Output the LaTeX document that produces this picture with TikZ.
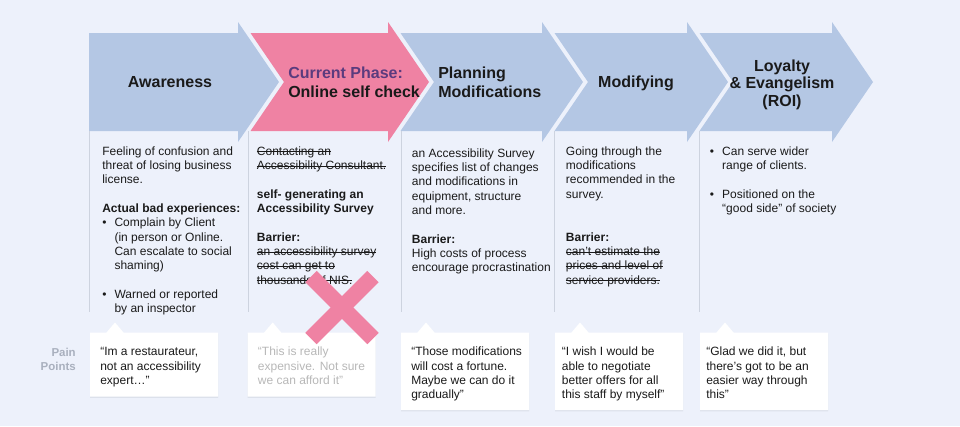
\documentclass[tikz,border=0pt]{standalone}
\usepackage{fontspec}
\setmainfont{Liberation Sans}
\definecolor{bg}{HTML}{EDF1FB}
\definecolor{arrowblue}{HTML}{B4C7E4}
\definecolor{phasepink}{HTML}{EF82A3}
\definecolor{phasepurple}{HTML}{5B3B7E}
\definecolor{colline}{HTML}{CDD3DF}
\definecolor{txtc}{HTML}{1A1A1A}
\definecolor{quotegray}{HTML}{B8B8B8}
\definecolor{labelgray}{HTML}{A9B0BE}
\definecolor{shadowc}{HTML}{DCE1EB}
\newcommand\stk[1]{\setbox0=\hbox{#1}\rlap{\copy0}\rule[2.5pt]{\wd0}{0.6pt}}
\newcommand\bulitem{\makebox[9.2pt][l]{\textbullet}}
\newcommand\bulpad{\hspace*{9.2pt}}
\tikzset{
  bodytext/.style={font=\fontsize{9}{10.75}\selectfont, text=txtc, inner sep=0pt, anchor=north west, align=left},
  headtext/.style={font=\fontsize{12}{14.25}\selectfont\bfseries, text=txtc, inner sep=0pt},
  quotebox/.style={fill=white},
  boxshadow/.style={fill=shadowc},
  colsep/.style={draw=colline, line width=0.75pt},
  bluechev/.style={fill=arrowblue},
  pinkchev/.style={fill=phasepink},
  crossmark/.style={draw=phasepink, line width=12pt}
}
\begin{document}
\begin{tikzpicture}[x=0.75pt,y=-0.75pt]
\fill[bg] (0,0) rectangle (960,426);
\useasboundingbox (0,0) rectangle (960,426);
% chevrons
\fill[bluechev] (89,33) -- (238,33) -- (238,22) -- (279,82) -- (238,142) -- (238,131) -- (89,131) -- cycle;
\fill[pinkchev] (250.5,33) -- (388,33) -- (388,22) -- (429,82) -- (388,142) -- (388,131) -- (250.5,131) -- (284,82) -- cycle;
\fill[bluechev] (400.5,33) -- (542,33) -- (542,22) -- (583,82) -- (542,142) -- (542,131) -- (400.5,131) -- (434,82) -- cycle;
\fill[bluechev] (554.5,33) -- (687,33) -- (687,22) -- (728,82) -- (687,142) -- (687,131) -- (554.5,131) -- (588,82) -- cycle;
\fill[bluechev] (699.5,33) -- (832,33) -- (832,22) -- (873,82) -- (832,142) -- (832,131) -- (699.5,131) -- (733,82) -- cycle;
% column separators
\foreach \cx in {89,248,401,554.5,699.5} \draw[colsep] (\cx,131) -- (\cx,312);
% headers
\node[headtext, anchor=base] (aw) at (170,87.5) {Awareness};
\node[headtext, anchor=north west, align=left] (cur) at (288,65.2) {\strut\textcolor{phasepurple}{Current Phase:}\\Online self check};
\node[headtext, anchor=north west, align=left] (plan) at (438,65.2) {\strut Planning\\Modifications};
\node[headtext, anchor=base] (mod) at (636,87.5) {Modifying};
\node[headtext, font=\fontsize{12}{13.2}\selectfont\bfseries, anchor=north, align=center] (loy) at (782,58.7) {\strut Loyalty\\\& Evangelism\\(ROI)};
% column texts
\node[bodytext] (awtxt) at (102,145) {\strut Feeling of confusion and\\
threat of losing business\\
license.\\[10.75pt]
\textbf{Actual bad experiences:}\\
\bulitem Complain by Client\\
\bulpad (in person or Online.\\
\bulpad Can escalate to social\\
\bulpad shaming)\\[10.75pt]
\bulitem Warned or reported\\
\bulpad by an inspector};
\node[bodytext] (curtxt) at (256.7,145) {\strut\stk{Contacting an}\\
\stk{Accessibility Consultant.}\\[10.75pt]
\textbf{self- generating an}\\
\textbf{Accessibility Survey}\\[10.75pt]
\textbf{Barrier:}\\
\stk{an accessibility survey}\\
\stk{cost can get to}\\
\stk{thousands of NIS.}};
\node[bodytext] (plantxt) at (411.7,146.7) {\strut an Accessibility Survey\\
specifies list of changes\\
and modifications in\\
equipment, structure\\
and more.\\[10.75pt]
\textbf{Barrier:}\\
High costs of process\\
encourage procrastination};
\node[bodytext] (modtxt) at (565.7,145) {\strut Going through the\\
modifications\\
recommended in the\\
survey.\\[21.5pt]
\textbf{Barrier:}\\
\stk{can’t estimate the}\\
\stk{prices and level of}\\
\stk{service providers.}};
\node[bodytext] (loytxt) at (709.7,145) {\strut\bulitem Can serve wider\\
\bulpad range of clients.\\[10.75pt]
\bulitem Positioned on the\\
\bulpad “good side” of society};
% pain points label
\node[bodytext, anchor=north east, align=right, font=\fontsize{8.6}{10.75}\selectfont\bfseries, text=labelgray] (pain) at (76,345.7) {\strut Pain\\Points};
% quote boxes
\foreach \xa/\xb/\yb in {90/218/396.5, 247.7/375.7/396.5, 401/529/410, 555/683/410, 700/828/410} {
  \fill[boxshadow] (\xa,333.7) -- ({\xa+16.5},333.7) -- ({\xa+25},323.7) -- ({\xa+33.5},333.7) -- (\xb,333.7) -- (\xb,\yb+1.3) -- (\xa,\yb+1.3) -- cycle;
  \fill[quotebox] (\xa,332.5) -- ({\xa+16.5},332.5) -- ({\xa+25},322.5) -- ({\xa+33.5},332.5) -- (\xb,332.5) -- (\xb,\yb) -- (\xa,\yb) -- cycle;
}
\node[bodytext] (q1) at (100,345.5) {\strut “Im a restaurateur,\\not an accessibility\\expert…”};
\node[bodytext, text=quotegray] (q2) at (257.7,345.5) {\strut “This is really\\expensive. Not sure\\we can afford it”};
\node[bodytext] (q3) at (411,345.5) {\strut “Those modifications\\will cost a fortune.\\Maybe we can do it\\gradually”};
\node[bodytext] (q4) at (561.7,345.5) {\strut “I wish I would be\\able to negotiate\\better offers for all\\this staff by myself”};
\node[bodytext] (q5) at (706,345.5) {\strut “Glad we did it, but\\there’s got to be an\\easier way through\\this”};
% cross mark
\draw[crossmark] (311,276.5) -- (373,338.5);
\draw[crossmark] (311,338.5) -- (373,276.5);
\end{tikzpicture}
\end{document}
